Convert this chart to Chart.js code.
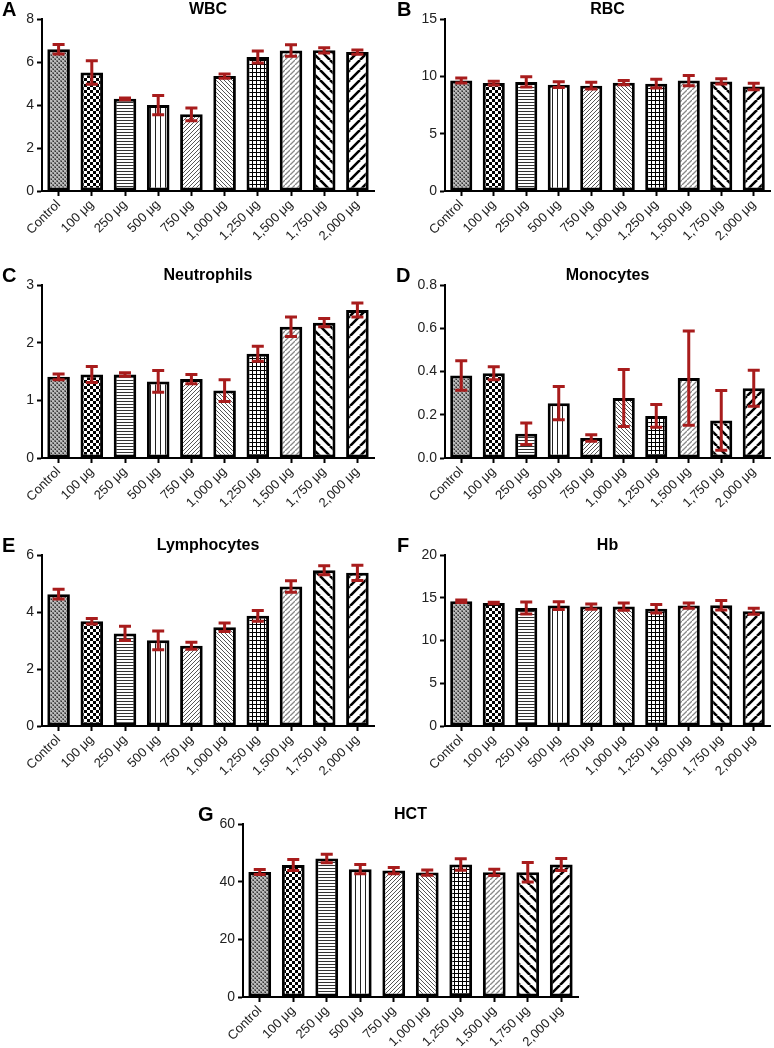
<!DOCTYPE html>
<html>
<head>
<meta charset="utf-8">
<title>Hematology panels</title>
<script src="https://cdn.jsdelivr.net/npm/chart.js@4"></script>
<style>
  body { margin: 0; background: #fff; }
  #wrap { position: relative; width: 774px; height: 1048px; overflow: hidden; }
  canvas { position: absolute; }
</style>
</head>
<body>
<div id="wrap">
  <canvas id="cA" width="387" height="265" style="left:0;top:0"></canvas>
  <canvas id="cB" width="387" height="265" style="left:387px;top:0"></canvas>
  <canvas id="cC" width="387" height="265" style="left:0;top:266px"></canvas>
  <canvas id="cD" width="387" height="265" style="left:387px;top:266px"></canvas>
  <canvas id="cE" width="387" height="265" style="left:0;top:536px"></canvas>
  <canvas id="cF" width="387" height="265" style="left:387px;top:536px"></canvas>
  <canvas id="cG" width="390" height="243" style="left:190px;top:805px"></canvas>
</div>
<script>
// dose groups
const doseLabels = ['Control', '100 μg', '250 μg', '500 μg', '750 μg', '1,000 μg', '1,250 μg', '1,500 μg', '1,750 μg', '2,000 μg'];

// mean values and error (SD)
const wbcMean = [6.6, 5.52, 4.29, 4.0, 3.57, 5.35, 6.24, 6.54, 6.55, 6.47];
const wbcErr  = [0.22, 0.55, 0.04, 0.45, 0.3, 0.1, 0.28, 0.27, 0.12, 0.1];

const rbcMean = [9.65, 9.42, 9.52, 9.28, 9.2, 9.46, 9.37, 9.64, 9.57, 9.13];
const rbcErr  = [0.22, 0.16, 0.45, 0.25, 0.3, 0.18, 0.38, 0.45, 0.22, 0.28];

const neuMean = [1.41, 1.45, 1.45, 1.33, 1.37, 1.17, 1.81, 2.28, 2.35, 2.57];
const neuErr  = [0.05, 0.14, 0.03, 0.19, 0.08, 0.19, 0.13, 0.17, 0.07, 0.12];

const monoMean = [0.382, 0.392, 0.112, 0.254, 0.093, 0.278, 0.195, 0.37, 0.174, 0.323];
const monoErr  = [0.068, 0.03, 0.05, 0.077, 0.015, 0.132, 0.053, 0.218, 0.138, 0.083];

const lymMean = [4.63, 3.68, 3.25, 3.01, 2.82, 3.47, 3.87, 4.9, 5.47, 5.38];
const lymErr  = [0.17, 0.1, 0.25, 0.33, 0.12, 0.15, 0.19, 0.2, 0.16, 0.27];

const hbMean = [14.6, 14.4, 13.82, 14.1, 13.98, 13.98, 13.74, 14.1, 14.14, 13.44];
const hbErr  = [0.15, 0.08, 0.7, 0.45, 0.3, 0.42, 0.5, 0.3, 0.57, 0.35];

const hctMean = [43.4, 45.8, 48.1, 44.4, 43.9, 43.2, 46.0, 43.3, 43.3, 46.0];
const hctErr  = [0.85, 1.9, 1.5, 1.6, 1.1, 0.9, 2.0, 1.1, 3.4, 2.1];

Chart.defaults.font.family = '"Liberation Sans", Arial, sans-serif';
Chart.defaults.color = '#222';

// fill textures, one per dose group
function makePattern(kind) {
  const sizes = { mesh: 4, checker: 6, hlines: 3, vlines: 5, fineSlash: 4, fineBack: 4, grid: 4, dashSlash: 5, wideBack: 10, wideSlash: 10 };
  const s = sizes[kind];
  const c = document.createElement('canvas');
  c.width = s; c.height = s;
  const g = c.getContext('2d');
  g.fillStyle = '#fff';
  g.fillRect(0, 0, s, s);
  g.fillStyle = '#000';
  g.strokeStyle = '#000';

  function diag(back, width, color) {
    g.strokeStyle = color;
    g.lineWidth = width;
    g.beginPath();
    for (const k of [-s, 0, s]) {
      if (back) { g.moveTo(k, 0); g.lineTo(k + s, s); }
      else { g.moveTo(k, s); g.lineTo(k + s, 0); }
    }
    g.stroke();
  }

  if (kind === 'mesh') {
    g.fillStyle = '#777';
    g.fillRect(0, 0, 2, 2); g.fillRect(2, 2, 2, 2);
    g.fillStyle = '#bbb';
    g.fillRect(2, 0, 2, 2); g.fillRect(0, 2, 2, 2);
    g.fillStyle = '#333';
    g.fillRect(1, 1, 1, 1); g.fillRect(3, 3, 1, 1);
  } else if (kind === 'checker') {
    g.fillRect(0, 0, 3, 3); g.fillRect(3, 3, 3, 3);
  } else if (kind === 'hlines') {
    g.fillStyle = '#333';
    g.fillRect(0, 0, s, 1);
  } else if (kind === 'vlines') {
    g.fillStyle = '#222';
    g.fillRect(0, 0, 1, s);
  } else if (kind === 'fineSlash') {
    diag(false, 1, '#555');
  } else if (kind === 'fineBack') {
    diag(true, 1, '#555');
  } else if (kind === 'grid') {
    g.fillRect(0, 0, s, 1); g.fillRect(0, 0, 1, s);
  } else if (kind === 'dashSlash') {
    diag(false, 1.3, '#888');
    g.fillStyle = '#fff';
    g.fillRect(0, 0, 1, 1);
  } else if (kind === 'wideBack') {
    diag(true, 2.6, '#000');
  } else if (kind === 'wideSlash') {
    diag(false, 2.6, '#000');
  }
  return g.createPattern(c, 'repeat');
}

const patternKinds = ['mesh', 'checker', 'hlines', 'vlines', 'fineSlash', 'fineBack', 'grid', 'dashSlash', 'wideBack', 'wideSlash'];
const barFills = patternKinds.map(makePattern);

// red error bars (mean ± err)
const errorBars = {
  id: 'errorBars',
  afterDatasetsDraw(chart) {
    const ds = chart.data.datasets[0];
    const meta = chart.getDatasetMeta(0);
    const y = chart.scales.y;
    const ctx = chart.ctx;
    ctx.save();
    ctx.strokeStyle = '#a81c1c';
    ctx.lineWidth = 3;
    ctx.lineCap = 'butt';
    meta.data.forEach((bar, i) => {
      const v = ds.data[i], e = ds.err[i];
      const top = y.getPixelForValue(v + e);
      const bot = y.getPixelForValue(Math.max(v - e, 0));
      ctx.beginPath();
      ctx.moveTo(bar.x, top); ctx.lineTo(bar.x, bot);
      ctx.moveTo(bar.x - 6, top); ctx.lineTo(bar.x + 6, top);
      ctx.moveTo(bar.x - 6, bot); ctx.lineTo(bar.x + 6, bot);
      ctx.stroke();
    });
    ctx.restore();
  }
};

// panel letter in the top-left corner
const panelLetter = {
  id: 'panelLetter',
  afterDraw(chart, args, opts) {
    const ctx = chart.ctx;
    ctx.save();
    ctx.font = 'bold 20px "Liberation Sans", Arial, sans-serif';
    ctx.fillStyle = '#000';
    ctx.textBaseline = 'middle';
    ctx.textAlign = 'left';
    ctx.fillText(opts.text, opts.x, opts.y);
    ctx.restore();
  }
};

function panel(id, letter, letterX, title, means, errs, yMax, yStep, yWidth, padRight, xHeight, decimals) {
  return new Chart(document.getElementById(id), {
    type: 'bar',
    data: {
      labels: doseLabels,
      datasets: [{
        data: means,
        err: errs,
        backgroundColor: barFills,
        borderColor: '#000',
        borderWidth: 3,
        borderSkipped: false,
        barPercentage: 0.68,
        categoryPercentage: 1
      }]
    },
    options: {
      responsive: false,
      animation: false,
      layout: { padding: { left: 0, right: padRight, top: 0, bottom: 0 } },
      plugins: {
        legend: { display: false },
        tooltip: { enabled: false },
        title: {
          display: true,
          text: title,
          fullSize: false,
          color: '#000',
          font: { size: 16, weight: 'bold' },
          padding: { top: 0, bottom: 0 }
        },
        panelLetter: { text: letter, x: letterX, y: 10 }
      },
      scales: {
        x: {
          offset: true,
          grid: { display: true, offset: false, drawOnChartArea: false, drawTicks: true, tickLength: 5, tickWidth: 2, tickColor: '#000' },
          border: { display: true, color: '#000', width: 2 },
          ticks: { color: '#222', font: { size: 13 }, minRotation: 45, maxRotation: 45, autoSkip: false, padding: 1 },
          afterFit: s => { s.height = xHeight; }
        },
        y: {
          min: 0,
          max: yMax,
          grid: { drawOnChartArea: false, drawTicks: true, tickLength: 5, tickWidth: 2, tickColor: '#000' },
          border: { display: true, color: '#000', width: 2 },
          ticks: {
            stepSize: yStep,
            color: '#222',
            font: { size: 14 },
            padding: 3,
            callback: v => v.toFixed(decimals)
          },
          afterFit: s => { s.width = yWidth; }
        }
      }
    },
    plugins: [errorBars, panelLetter]
  });
}

panel('cA', 'A', 2, 'WBC', wbcMean, wbcErr, 8, 2, 42, 13, 74, 0);
panel('cB', 'B', 10, 'RBC', rbcMean, rbcErr, 15, 5, 58, 4, 74, 0);
panel('cC', 'C', 2, 'Neutrophils', neuMean, neuErr, 3, 1, 42, 13, 73, 0);
panel('cD', 'D', 9, 'Monocytes', monoMean, monoErr, 0.8, 0.2, 58, 4, 73, 1);
panel('cE', 'E', 2, 'Lymphocytes', lymMean, lymErr, 6, 2, 42, 13, 75, 0);
panel('cF', 'F', 10, 'Hb', hbMean, hbErr, 20, 5, 58, 4, 75, 0);
panel('cG', 'G', 8, 'HCT', hctMean, hctErr, 60, 20, 53, 2, 51, 0);
</script>
</body>
</html>
